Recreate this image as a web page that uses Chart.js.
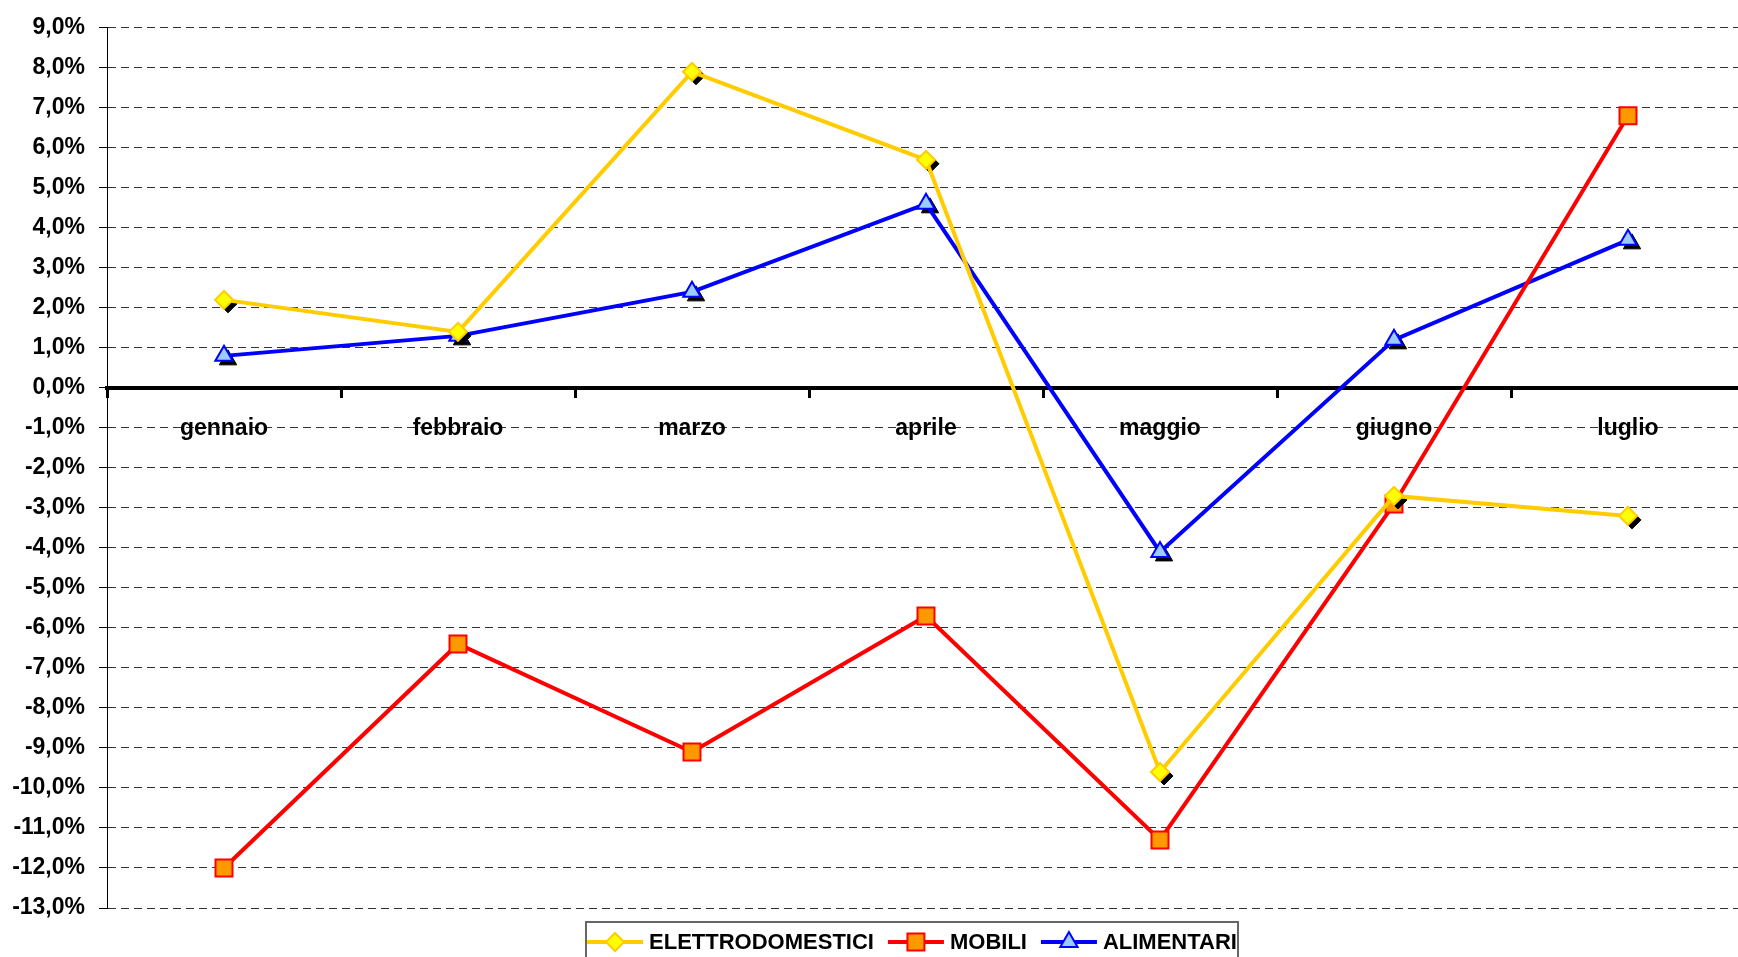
<!DOCTYPE html>
<html>
<head>
<meta charset="utf-8">
<script src="https://cdn.jsdelivr.net/npm/chart.js@4/dist/chart.umd.min.js"></script>
<style>
  html, body { margin: 0; padding: 0; background: #fff; overflow: hidden; }
  #outer { width: 1738px; height: 957px; overflow: hidden; }
  #wrap { width: 1759px; height: 957px; position: relative; }
</style>
</head>
<body>
<div id="outer"><div id="wrap"><canvas id="line-chart"></canvas></div></div>
<script>
// months on the x axis
var mesi = ["gennaio", "febbraio", "marzo", "aprile", "maggio", "giugno", "luglio"];

// percent changes
var elettrodomestici = [2.2, 1.4, 7.9, 5.7, -9.6, -2.7, -3.2];
var mobili = [-12.0, -6.4, -9.1, -5.7, -11.3, -2.9, 6.8];
var alimentari = [0.8, 1.3, 2.4, 4.6, -4.1, 1.2, 3.7];

var yMin = -13, yMax = 9;

var FONT = "'Liberation Sans', Arial, sans-serif";

// black drop shadow under the markers (like the Excel original)
var markerShadow = {
  id: 'markerShadow',
  beforeDatasetDraw: function (chart, args) {
    var ds = chart.data.datasets[args.index];
    if (!ds.shadow) return;
    var ctx = chart.ctx;
    var meta = chart.getDatasetMeta(args.index);
    ctx.save();
    ctx.fillStyle = '#000';
    ctx.strokeStyle = '#000';
    meta.data.forEach(function (pt) {
      Chart.helpers.drawPoint(ctx, {
        pointStyle: ds.pointStyle, radius: ds.pointRadius, rotation: 0, borderWidth: 1
      }, pt.x + 4, pt.y + 4);
    });
    ctx.restore();
  }
};

// legend in a box at the bottom, line + marker symbols
var boxLegend = {
  id: 'boxLegend',
  afterDraw: function (chart) {
    var ctx = chart.ctx;
    var sets = chart.data.datasets;
    ctx.save();
    ctx.font = 'bold 22px ' + FONT;
    var symW = 56, gap = 6, itemGap = 14;
    var total = 0;
    sets.forEach(function (ds, i) {
      total += symW + gap + ctx.measureText(ds.label).width;
      if (i < sets.length - 1) total += itemGap;
    });
    var cx = 912;
    var x = cx - total / 2;
    var y = 942;
    ctx.strokeStyle = '#666';
    ctx.lineWidth = 2;
    ctx.strokeRect(586, 922, 652, 60);
    sets.forEach(function (ds) {
      ctx.strokeStyle = ds.borderColor;
      ctx.lineWidth = 4;
      ctx.beginPath();
      ctx.moveTo(x, y);
      ctx.lineTo(x + symW, y);
      ctx.stroke();
      ctx.fillStyle = ds.pointBackgroundColor;
      ctx.strokeStyle = ds.pointBorderColor;
      ctx.lineWidth = 2;
      Chart.helpers.drawPoint(ctx, {
        pointStyle: ds.pointStyle, radius: ds.pointRadius, rotation: 0, borderWidth: 2
      }, x + symW / 2, y);
      x += symW + gap;
      ctx.fillStyle = '#000';
      ctx.textBaseline = 'middle';
      ctx.textAlign = 'left';
      ctx.fillText(ds.label, x, y + 1);
      x += ctx.measureText(ds.label).width + itemGap;
    });
    ctx.restore();
  }
};

new Chart(document.getElementById('line-chart'), {
  type: 'line',
  data: {
    labels: mesi,
    datasets: [
      {
        label: 'ELETTRODOMESTICI',
        data: elettrodomestici,
        borderColor: '#FFCC00',
        borderWidth: 4,
        pointStyle: 'rectRot',
        pointRadius: 9,
        pointBackgroundColor: '#FFFF00',
        pointBorderColor: '#FFCC00',
        pointBorderWidth: 2,
        shadow: true,
        fill: false,
        tension: 0
      },
      {
        label: 'MOBILI',
        data: mobili,
        borderColor: '#FF0000',
        borderWidth: 4,
        pointStyle: 'rect',
        pointRadius: 12,
        pointBackgroundColor: '#FF9900',
        pointBorderColor: '#FF0000',
        pointBorderWidth: 2,
        shadow: false,
        fill: false,
        tension: 0
      },
      {
        label: 'ALIMENTARI',
        data: alimentari,
        borderColor: '#0000FF',
        borderWidth: 4,
        pointStyle: 'triangle',
        pointRadius: 10,
        pointBackgroundColor: '#99CCFF',
        pointBorderColor: '#0000FF',
        pointBorderWidth: 2,
        shadow: true,
        fill: false,
        tension: 0
      }
    ]
  },
  options: {
    responsive: true,
    maintainAspectRatio: false,
    animation: false,
    layout: { padding: { top: 24, bottom: 49, left: 0, right: 0 } },
    plugins: {
      legend: { display: false },
      tooltip: { enabled: false }
    },
    scales: {
      x: {
        position: { y: 0 },
        offset: true,
        border: { display: true, color: '#000', width: 4 },
        grid: {
          display: true,
          offset: true,
          drawOnChartArea: false,
          drawTicks: true,
          tickLength: 8,
          tickWidth: 3,
          tickColor: '#000'
        },
        ticks: {
          color: '#000',
          padding: 19,
          maxRotation: 0,
          font: { family: FONT, size: 23, weight: 'bold' }
        }
      },
      y: {
        min: yMin,
        max: yMax,
        afterFit: function (scale) { scale.width = 107; },
        border: { display: true, color: '#000', width: 1, dash: [8, 5] },
        grid: {
          color: 'rgba(0,0,0,0.8)',
          lineWidth: 1,
          tickColor: '#000',
          tickLength: 8,
          tickBorderDash: [],
          drawTicks: true
        },
        ticks: {
          stepSize: 1,
          autoSkip: false,
          color: '#000',
          padding: 14,
          font: { family: FONT, size: 23, weight: 'bold' },
          callback: function (v) {
            return v.toFixed(1).replace('.', ',') + '%';
          }
        }
      }
    }
  },
  plugins: [markerShadow, boxLegend]
});
</script>
</body>
</html>
